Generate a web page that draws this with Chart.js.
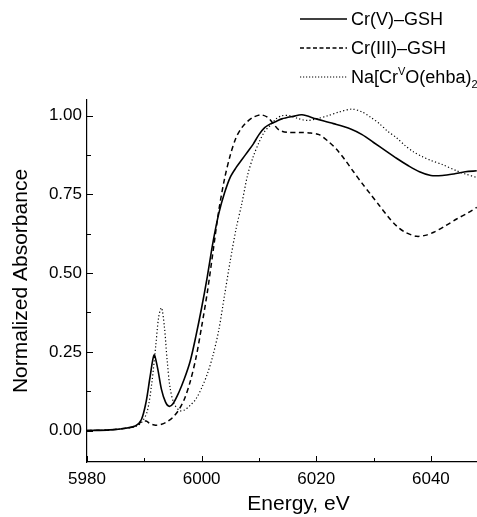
<!DOCTYPE html>
<html>
<head>
<meta charset="utf-8">
<script src="https://cdn.jsdelivr.net/npm/chart.js@4"></script>
<style>
html,body{margin:0;padding:0;overflow:hidden;background:#fff;width:477px;height:517px;}
#wrap{position:relative;width:477px;height:517px;overflow:hidden;}
canvas{position:absolute;left:0;top:0;}
.row{position:absolute;left:300px;height:20px;white-space:nowrap;font-family:Arial,"Liberation Sans",sans-serif;font-size:18px;color:#000;line-height:20px;}
.row svg{position:absolute;left:0;top:0;}
.row span{position:absolute;left:51px;top:0;}
sup{font-size:11px;vertical-align:0;position:relative;top:-8px;}
sub{font-size:11px;vertical-align:0;position:relative;top:5px;}
</style>
</head>
<body>
<div id="wrap">
<canvas id="c" width="510" height="517"></canvas>
<div class="row" style="top:9px"><svg width="48" height="20"><line x1="0" y1="10" x2="47" y2="10" stroke="#000" stroke-width="1.4"/></svg><span>Cr(V)–GSH</span></div>
<div class="row" style="top:38px"><svg width="48" height="20"><line x1="0" y1="10" x2="47" y2="10" stroke="#000" stroke-width="1.3" stroke-dasharray="4 2.5"/></svg><span>Cr(III)–GSH</span></div>
<div class="row" style="top:67px"><svg width="48" height="20"><line x1="0" y1="10" x2="47" y2="10" stroke="#000" stroke-width="1.1" stroke-dasharray="1.2 1.8"/></svg><span>Na[Cr<sup>V</sup>O(ehba)<sub>2</sub></span></div>
</div>
<script>
// ---- data ----
const seriesNames = ["Cr(V)–GSH", "Cr(III)–GSH", "Na[CrVO(ehba)2"];

const crV_E = [5980,5984,5987,5988.5,5989.5,5990.3,5991,5991.7,5992.3,5993,5993.7,5994.3,5995,5996,5997,5998,5999,6000,6001,6002,6003,6004,6005,6006,6007,6008,6009,6010,6011,6012,6013,6014,6016,6017.5,6020,6023,6026,6028,6030,6032,6034,6036,6038,6040,6042,6044,6046,6048];
const crV_A = [0.0,0.002,0.008,0.015,0.035,0.09,0.17,0.24,0.2,0.13,0.09,0.077,0.085,0.12,0.165,0.22,0.3,0.39,0.49,0.6,0.69,0.755,0.805,0.835,0.86,0.885,0.91,0.94,0.962,0.974,0.982,0.99,0.998,1.003,0.99,0.975,0.958,0.94,0.915,0.89,0.865,0.842,0.822,0.81,0.81,0.815,0.822,0.825];

const crIII_E = [5980,5984,5987,5988.5,5989.5,5990.3,5991,5992,5993,5994,5995,5996,5997,5998,5999,6000,6001,6002,6003,6004,6005,6006,6007,6008,6009,6010.3,6011.5,6012.5,6013.5,6015,6017,6019,6020.5,6022,6023.5,6025,6026.5,6028,6029.5,6031,6032.5,6034,6035.5,6037.5,6039,6040.5,6042.5,6044.5,6046.5,6048];
const crIII_A = [0.0,0.002,0.008,0.015,0.028,0.03,0.022,0.017,0.02,0.028,0.042,0.065,0.1,0.155,0.23,0.33,0.44,0.57,0.7,0.8,0.875,0.93,0.962,0.982,0.995,1.003,0.995,0.975,0.955,0.947,0.947,0.945,0.94,0.92,0.894,0.86,0.822,0.785,0.75,0.715,0.68,0.65,0.63,0.617,0.62,0.63,0.65,0.672,0.692,0.709];

const crVehba_E = [5980,5984,5987,5988.5,5989.5,5990.5,5991.3,5992,5992.5,5993,5993.5,5994,5994.5,5995.2,5996.2,5997,5998,5999,6000,6001,6002,6003,6004,6005,6006,6007,6008,6009,6010,6011,6012,6013,6014,6015.5,6017,6018.5,6020,6022,6024,6026.2,6028,6029.5,6031,6032.5,6034,6035.5,6037,6038.5,6040,6042,6044.5,6046,6048];
const crVehba_A = [0.0,0.002,0.008,0.013,0.025,0.06,0.15,0.27,0.36,0.39,0.33,0.22,0.135,0.085,0.063,0.065,0.08,0.1,0.135,0.18,0.24,0.32,0.43,0.54,0.64,0.72,0.81,0.87,0.915,0.95,0.97,0.99,1.0,1.0,0.99,0.985,0.99,1.0,1.012,1.021,1.012,0.995,0.975,0.95,0.93,0.905,0.885,0.87,0.858,0.845,0.825,0.815,0.804];

const xTicks = [5980, 6000, 6020, 6040];
const xMinorTicks = [5990, 6010, 6030, 6050];
const yTicks = [0.00, 0.25, 0.50, 0.75, 1.00];
const yMinorTicks = [0.125, 0.375, 0.625, 0.875];
const xTitle = "Energy, eV";
const yTitle = "Normalized Absorbance";

const pts = (xs, ys) => xs.map((x, i) => ({x: x, y: ys[i]}));

Chart.defaults.font.family = 'Arial, "Liberation Sans", sans-serif';
Chart.defaults.color = '#000';

const inwardTicks = {
  id: 'inwardTicks',
  afterDraw(chart) {
    const ctx = chart.ctx, xs = chart.scales.x, ys = chart.scales.y;
    const bottom = chart.chartArea.bottom, left = chart.chartArea.left;
    ctx.save();
    ctx.strokeStyle = '#000';
    ctx.lineWidth = 1;
    ctx.beginPath();
    xTicks.forEach(v => { const p = Math.round(xs.getPixelForValue(v)) + 0.5; ctx.moveTo(p, bottom); ctx.lineTo(p, bottom - 6); });
    xMinorTicks.forEach(v => { const p = Math.round(xs.getPixelForValue(v)) + 0.5; ctx.moveTo(p, bottom); ctx.lineTo(p, bottom - 4); });
    yTicks.forEach(v => { const p = Math.round(ys.getPixelForValue(v)) + 0.5; ctx.moveTo(left, p); ctx.lineTo(left + 6, p); });
    yMinorTicks.forEach(v => { const p = Math.round(ys.getPixelForValue(v)) + 0.5; ctx.moveTo(left, p); ctx.lineTo(left + 4, p); });
    ctx.stroke();
    ctx.restore();
  }
};

new Chart(document.getElementById('c'), {
  type: 'line',
  data: {
    datasets: [
      {label: seriesNames[0], data: pts(crV_E, crV_A), borderColor: '#000', borderWidth: 1.6, pointRadius: 0, tension: 0.3, fill: false},
      {label: seriesNames[1], data: pts(crIII_E, crIII_A), borderColor: '#000', borderWidth: 1.5, borderDash: [5, 3.5], pointRadius: 0, tension: 0.3, fill: false},
      {label: seriesNames[2], data: pts(crVehba_E, crVehba_A), borderColor: '#000', borderWidth: 1.2, borderDash: [1.2, 2.3], pointRadius: 0, tension: 0.3, fill: false}
    ]
  },
  options: {
    responsive: false,
    animation: false,
    events: [],
    layout: {padding: {top: 100, right: 0, left: 0, bottom: 0}},
    plugins: {legend: {display: false}, tooltip: {enabled: false}},
    scales: {
      x: {
        type: 'linear', min: 5980, max: 6053.8,
        afterBuildTicks: s => { s.ticks = xTicks.map(v => ({value: v})); },
        afterFit: s => { s.height = 55; },
        grid: {display: true, drawOnChartArea: false, drawTicks: false},
        border: {display: true, color: '#000', width: 1.2},
        ticks: {padding: 7, font: {size: 17}, maxRotation: 0, callback: v => String(v)},
        title: {display: true, text: xTitle, font: {size: 21}, padding: {top: 0, bottom: 0}}
      },
      y: {
        type: 'linear', min: -0.1, max: 1.05,
        afterBuildTicks: s => { s.ticks = yTicks.map(v => ({value: v})); },
        afterFit: s => { s.width = 87; },
        grid: {display: true, drawOnChartArea: false, drawTicks: false},
        border: {display: true, color: '#000', width: 1.2},
        ticks: {padding: 5, font: {size: 17}, callback: v => Number(v).toFixed(2)},
        title: {display: true, text: yTitle, font: {size: 21}, padding: {top: 9, bottom: 0}}
      }
    }
  },
  plugins: [inwardTicks]
});
</script>
</body>
</html>
